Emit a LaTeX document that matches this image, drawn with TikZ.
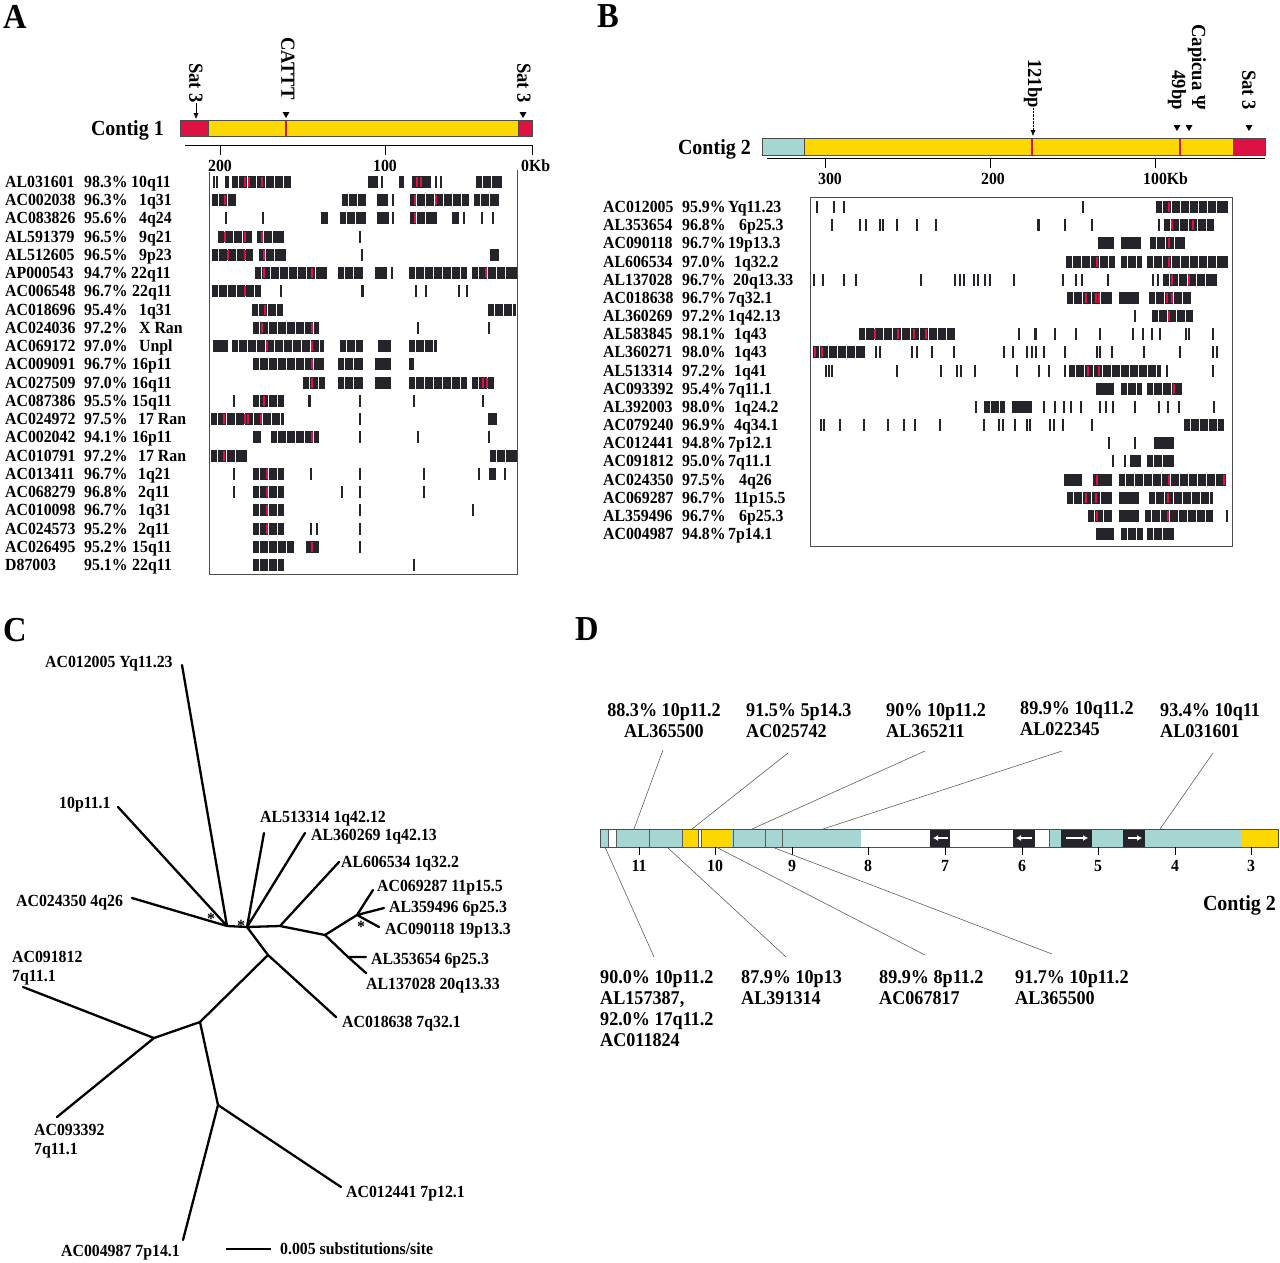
\documentclass[tikz,border=0pt]{standalone}
\usepackage{fontspec}
\setmainfont{Liberation Serif}[FakeStretch=0.93]
\usetikzlibrary{arrows.meta}

\definecolor{ctgred}{RGB}{222,18,66}
\definecolor{ctgyel}{RGB}{252,216,0}
\definecolor{ctgcyan}{RGB}{166,214,210}
\definecolor{hitblk}{RGB}{36,36,42}

\newcommand\downtri[2]{\fill (#1-3.5,#2-6) -- (#1+3.5,#2-6) -- (#1,#2) -- cycle;}

\begin{document}
\begin{tikzpicture}[x=1pt,y=-1pt,>={Latex[length=6pt,width=5pt]},
  lbl/.style={font=\fontsize{17}{19}\selectfont\bfseries,inner sep=0pt,anchor=base west},
  panel/.style={font=\fontsize{35}{37}\selectfont\bfseries,inner sep=0pt,anchor=base west},
  ctg/.style={font=\fontsize{21.5}{23}\selectfont\bfseries,inner sep=0pt,anchor=base east},
  rot/.style={font=\fontsize{20}{20}\selectfont\bfseries,inner sep=0pt,rotate=-90,anchor=east},
  ticklbl/.style={font=\fontsize{17}{19}\selectfont\bfseries,inner sep=0pt,anchor=base},
  dlbl/.style={font=\fontsize{19.5}{21}\selectfont\bfseries,inner sep=0pt,anchor=north west,align=left},
  br/.style={line width=2.3pt,line cap=round},
  lead/.style={gray!75!black,line width=0.6pt},
  warr/.style={white,line width=1.8pt,-{Latex[length=5pt,width=6pt]}},
  frame/.style={gray!60!black,line width=0.7pt}]
\useasboundingbox (0,0) rectangle (1280,1263);

% ---------- A ----------
\node[panel] (pA) at (3,29) {A};
\node[ctg] (c1) at (164,135) {Contig 1};
\fill[ctgred] (180,120) rectangle (208,136);
\fill[ctgyel] (208,120) rectangle (518,136);
\fill[ctgred] (518,120) rectangle (532,136);
\draw[ctgred,line width=2pt] (286,120) -- (286,136);
\draw[frame] (180,120) rectangle (532,136) (208,120) -- (208,136) (518,120) -- (518,136);
\node[rot] (satA1) at (196,103) {Sat 3};
\node[rot] (cattt) at (288,100) {CATTT};
\node[rot] (satA2) at (524,103) {Sat 3};
\coordinate (satA1tip) at (196,119);
\draw[->] (satA1) -- (satA1tip);
\downtri{286}{118}
\downtri{523}{118}
\draw[line width=0.8pt] (185,145) -- (533,145);
\foreach \x/\t in {220/200,385/100} {
  \draw (\x,145) -- (\x,155);
  \node[ticklbl] (ta\t) at (\x,171) {\t};
}
\draw (532,145) -- (532,155);
\node[lbl] (ta0) at (521,171) {0Kb};
\draw[frame] (209,172) -- (209,574) -- (517,574) -- (517,170);

\foreach \i/\acc/\pct/\loc/\lx/\segs/\reds in {
 1/AL031601/98.3\%/10q11/131/{213/215,216/218,225/229,232/291,368/378,381/383,399/404,412/431,435/437,440/442,476/502}/{245,249,262,417,421},
 2/AC002038/96.3\%/1q31/139/{212/236,342/366,377/388,392/393.5,410/469,474/499}/{225,415,436},
 3/AC083826/95.6\%/4q24/139/{225/226.5,262/263.5,321/328,340/366,377/389,392/393.5,410/437,452/459,463/464.5,481/482.5,492/493.5}/{415},
 4/AL591379/96.5\%/9q21/139/{218/252,257/284,359/360.5}/{225,245,262},
 5/AL512605/96.5\%/9p23/139/{212/253,259/286,361/362.5,490/499}/{228,245,264},
 6/AP000543/94.7\%/22q11/131/{255/327,338/363,375/387,391/392.5,409/467,472/517}/{264,312,486},
 7/AC006548/96.7\%/22q11/132/{212/261,280/281.5,361/364,415/416.5,425/426.5,458/459.5,466/467.5}/{245},
 8/AC018696/95.4\%/1q31/139/{252/283,488/516}/{265},
 9/AC024036/97.2\%/X Ran/139/{253/319,417/418.5,488/489.5}/{262,312},
 10/AC069172/97.0\%/Unpl/139/{213/228,232/324,340/363,378/391,409/437}/{267,312},
 11/AC009091/96.7\%/16p11/132/{253/324,338/363,375/391,409/414}/{312},
 12/AC027509/97.0\%/16q11/132/{303/325,338/363,375/391,409/467,472/494}/{312,483,487},
 13/AC087386/95.5\%/15q11/132/{233/234.5,253/284,308/310.5,359/360.5,413/414.5,482/483.5}/{264},
 14/AC024972/97.5\%/17 Ran/138/{211/284,359/360.5,488/497}/{224,245,248,261},
 15/AC002042/94.1\%/16p11/132/{253/261,271/319,359/360.5,417/418.5,488/490}/{312},
 16/AC010791/97.2\%/17 Ran/138/{211/247,490/517}/{224},
 17/AC013411/96.7\%/1q21/138/{233/234.5,253/284,310/311.5,359/360.5,423/424.5,478/479.5,489/496,504/505.5}/{267},
 18/AC068279/96.8\%/2q11/138/{233/234.5,253/284,341/342.5,359/360.5,423/424.5}/{267},
 19/AC010098/96.7\%/1q31/138/{253/284,359/360.5,472/473.5}/{267},
 20/AC024573/95.2\%/2q11/138/{253/284,310/311.5,316/317.5,359/360.5}/{267},
 21/AC026495/95.2\%/15q11/132/{253/294,306/319,359/360.5}/{312},
 22/D87003/95.1\%/22q11/132/{253/284,413/414.5}/{0}}{
  \pgfmathsetmacro\y{182+18.24*(\i-1)}
  \node[lbl] (accA\i) at (5,\y+5.5) {\acc};
  \node[lbl] (pctA\i) at (84,\y+5.5) {\pct};
  \node[lbl] (locA\i) at (\lx,\y+5.5) {\loc};
  \foreach \xa/\xb in \segs {
    \fill[hitblk] (\xa,\y-6) rectangle (\xb,\y+6);
    \pgfmathsetmacro\w{\xb-\xa}
    \ifdim\w pt>20pt
      \pgfmathsetmacro\ga{\xa+6}\pgfmathsetmacro\gb{\xa+15}\pgfmathsetmacro\gz{\xb-4}
      \foreach \g in {\ga,\gb,...,\gz} {\draw[white,line width=0.7pt] (\g,\y-6) -- (\g,\y+6);}
    \fi
  }
  \foreach \r in \reds {\ifnum\r>0\relax \draw[ctgred,line width=1.2pt] (\r,\y-5) -- (\r,\y+5);\fi}
}

% ---------- B ----------
\node[panel] (pB) at (597,28) {B};
\node[ctg] (c2) at (751,154) {Contig 2};
\fill[ctgcyan] (762,138) rectangle (804,155);
\fill[ctgyel] (804,138) rectangle (1233,155);
\fill[ctgred] (1233,138) rectangle (1265,155);
\draw[ctgred,line width=2pt] (1032,138) -- (1032,155) (1180,138) -- (1180,155);
\draw[frame] (762,138) rectangle (1265,155) (804,138) -- (804,155);
\node[rot] (bp121) at (1033,108) {121bp};
\coordinate (bp121tip) at (1033,136);
\draw[densely dotted,->] (bp121) -- (bp121tip);
\node[rot,align=right] (capi) at (1187,110) {Capicua Ψ\\49bp};
\node[rot] (satB) at (1249,110) {Sat 3};
\downtri{1177}{131}
\downtri{1189}{131}
\downtri{1249}{131}
\draw[line width=0.8pt] (767,158) -- (1265,158);
\foreach \x/\t in {825/300,990/200,1155/100} \draw (\x,158) -- (\x,168);
\node[ticklbl] (tb300) at (830,184) {300};
\node[ticklbl] (tb200) at (993,184) {200};
\node[lbl] (tb100) at (1143,184) {100Kb};
\draw[frame] (810,197) rectangle (1232,546);

\foreach \i/\acc/\pct/\loc/\lx/\segs/\reds in {
 1/AC012005/95.9\%/Yq11.23/728/{816/817.5,833/834.5,843/844.5,1082/1083.5,1156/1228}/{1169},
 2/AL353654/96.8\%/6p25.3/739/{831/832.5,859/860.5,865/866.5,879/880.5,882/883.5,896/897.5,916/917.5,935/936.5,1037/1040,1064/1065.5,1091/1092.5,1158/1159.5,1164/1214}/{1172,1193},
 3/AC090118/96.7\%/19p13.3/728/{1098/1114,1121/1141,1150/1185}/{1169},
 4/AL606534/97.0\%/1q32.2/734/{1066/1115,1121/1142,1147/1228}/{1097,1169},
 5/AL137028/96.7\%/20q13.33/733/{813/814.5,822/823.5,843/844.5,855/856.5,920/921.5,954/955.5,959/960.5,963/964.5,973/974.5,977/978.5,984/985.5,989/990.5,1013/1014.5,1062/1063.5,1075/1076.5,1081/1082.5,1107/1108.5,1152/1153.5,1157/1158.5,1163/1217}/{1172,1189},
 6/AC018638/96.7\%/7q32.1/728/{1067/1112,1119/1139,1149/1191}/{1086,1096,1099,1167,1172},
 7/AL360269/97.2\%/1q42.13/728/{1134/1135.5,1152/1193}/{1169},
 8/AL583845/98.1\%/1q43/734/{859/955,1018/1019.5,1034/1037,1054/1055.5,1075/1076.5,1099/1100.5,1132/1133.5,1142/1143.5,1151/1152.5,1159/1160.5,1185/1186.5,1188/1189.5,1212/1213.5}/{875,898,914,926},
 9/AL360271/98.0\%/1q43/734/{813/865,875/876.5,879/880.5,911/912.5,916/917.5,931/932.5,953/954.5,1003/1004.5,1012/1013.5,1026/1027.5,1031/1032.5,1035/1036.5,1043/1044.5,1064/1065.5,1096/1097.5,1099/1100.5,1111/1112.5,1143/1144.5,1179/1180.5,1212/1213.5,1216/1217.5}/{815,822},
 10/AL513314/97.2\%/1q41/734/{825/826.5,828/829.5,831/832.5,896/897.5,940/941.5,956/957.5,960/961.5,974/975.5,1016/1017.5,1038/1039.5,1048/1049.5,1064/1065.5,1069/1161,1166/1167.5,1212/1213.5}/{1088,1099},
 11/AC093392/95.4\%/7q11.1/728/{1096/1114,1121/1142,1147/1182}/{1174},
 12/AL392003/98.0\%/1q24.2/734/{975/976.5,984/1005,1012/1032,1043/1044.5,1054/1055.5,1063/1064.5,1070/1071.5,1080/1081.5,1099/1100.5,1105/1106.5,1112/1113.5,1134/1135.5,1158/1159.5,1167/1168.5,1178/1179.5,1213/1214.5}/{0},
 13/AC079240/96.9\%/4q34.1/734/{820/821.5,823/824.5,839/840.5,863/864.5,887/889,903/904.5,914/915.5,939/941,983/984.5,998/999.5,1002/1003.5,1014/1015.5,1026/1027.5,1029/1030.5,1049/1050.5,1053/1054.5,1062/1063.5,1091/1092.5,1184/1224}/{0},
 14/AC012441/94.8\%/7p12.1/728/{1108/1109.5,1134/1135.5,1154/1174}/{0},
 15/AC091812/95.0\%/7q11.1/728/{1112/1113.5,1124/1125.5,1130/1141,1147/1174}/{0},
 16/AC024350/97.5\%/4q26/739/{1064/1082,1093/1112,1119/1226}/{1097,1169,1224},
 17/AC069287/96.7\%/11p15.5/734/{1067/1112,1119/1139,1149/1213}/{1086,1096,1168},
 18/AL359496/96.7\%/6p25.3/739/{1088/1112,1119/1139,1145/1213,1226/1227.5}/{1097,1168},
 19/AC004987/94.8\%/7p14.1/728/{1096/1114,1121/1143,1147/1174}/{0}}{
  \pgfmathsetmacro\y{207+18.17*(\i-1)}
  \node[lbl] (accB\i) at (603,\y+5.5) {\acc};
  \node[lbl] (pctB\i) at (682,\y+5.5) {\pct};
  \node[lbl] (locB\i) at (\lx,\y+5.5) {\loc};
  \foreach \xa/\xb in \segs {
    \fill[hitblk] (\xa,\y-6) rectangle (\xb,\y+6);
    \pgfmathsetmacro\w{\xb-\xa}
    \ifdim\w pt>20pt
      \pgfmathsetmacro\ga{\xa+6}\pgfmathsetmacro\gb{\xa+15}\pgfmathsetmacro\gz{\xb-4}
      \foreach \g in {\ga,\gb,...,\gz} {\draw[white,line width=0.7pt] (\g,\y-6) -- (\g,\y+6);}
    \fi
  }
  \foreach \r in \reds {\ifnum\r>0\relax \draw[ctgred,line width=1.2pt] (\r,\y-5) -- (\r,\y+5);\fi}
}

% ---------- C ----------
\node[panel] (pC) at (3,641) {C};
\coordinate (n1) at (227,926);
\coordinate (n2) at (247,927);
\coordinate (n3) at (280,926);
\coordinate (n4) at (325,935);
\coordinate (n5) at (268,955);
\coordinate (n6) at (357,915);
\coordinate (n7) at (348,957);
\coordinate (n8) at (200,1022);
\coordinate (n9) at (154,1038);
\coordinate (n10) at (218,1105);
\coordinate (lYq) at (182,665);
\coordinate (l10p) at (118,807);
\coordinate (l4q26) at (132,898);
\coordinate (l513) at (264,833);
\coordinate (l269) at (305,833);
\coordinate (l534) at (339,862);
\coordinate (l287) at (373,890);
\coordinate (l496) at (384,908);
\coordinate (l118) at (379,927);
\coordinate (l654) at (366,957);
\coordinate (l028) at (366,973);
\coordinate (l638) at (336,1017);
\coordinate (l812) at (23,987);
\coordinate (l392) at (57,1117);
\coordinate (l441) at (341,1187);
\coordinate (l987) at (183,1240);
\draw[br] (lYq) -- (n1) (l10p) -- (n1) (l4q26) -- (n1)
  (n1) -- (n2) -- (n3) -- (n4) -- (n6)
  (l513) -- (n2) (l269) -- (n2) (l534) -- (n3)
  (n6) -- (l287) (n6) -- (l496) (n6) -- (l118)
  (n4) -- (n7) -- (l028) (n7) -- (l654)
  (n2) -- (n5) -- (l638) (n5) -- (n8) -- (n9) -- (l812) (n9) -- (l392)
  (n8) -- (n10) -- (l441) (n10) -- (l987);
\node[lbl] (tYq) at (45,667) {AC012005 Yq11.23};
\node[lbl] (t10p) at (59,808) {10p11.1};
\node[lbl] (t4q26) at (16,906) {AC024350 4q26};
\node[lbl] (t513) at (260,822) {AL513314 1q42.12};
\node[lbl] (t269) at (311,840) {AL360269 1q42.13};
\node[lbl] (t534) at (341,867) {AL606534 1q32.2};
\node[lbl] (t287) at (377,891) {AC069287 11p15.5};
\node[lbl] (t496) at (389,912) {AL359496 6p25.3};
\node[lbl] (t118) at (385,934) {AC090118 19p13.3};
\node[lbl] (t654) at (371,964) {AL353654 6p25.3};
\node[lbl] (t028) at (366,989) {AL137028 20q13.33};
\node[lbl] (t638) at (342,1027) {AC018638 7q32.1};
\node[lbl,anchor=north west,align=left] (t812) at (12,951) {AC091812\\7q11.1};
\node[lbl,anchor=north west,align=left] (t392) at (34,1124) {AC093392\\7q11.1};
\node[lbl] (t441) at (346,1197) {AC012441 7p12.1};
\node[lbl] (t987) at (61,1256) {AC004987 7p14.1};
\node[font=\fontsize{17}{17}\selectfont\bfseries,inner sep=0pt] (ast1) at (211,919) {*};
\node[font=\fontsize{17}{17}\selectfont\bfseries,inner sep=0pt] (ast2) at (241,926) {*};
\node[font=\fontsize{17}{17}\selectfont\bfseries,inner sep=0pt] (ast3) at (361,927) {*};
\coordinate (sb1) at (226,1249);
\coordinate (sb2) at (271,1249);
\draw[line width=2pt] (sb1) -- (sb2);
\node[lbl] (sbl) at (280,1254) {0.005 substitutions/site};

% ---------- D ----------
\node[panel] (pD) at (575,640) {D};
\foreach \xa/\xb/\c in {600/608/ctgcyan,608/616/white,616/682/ctgcyan,682/732/ctgyel,698/701/white,
  732/861/ctgcyan,861/930/white,930/950/hitblk,950/1013/white,1013/1035/hitblk,1035/1049/white,
  1049/1061/ctgcyan,1061/1092/hitblk,1092/1123/ctgcyan,1123/1145/hitblk,1145/1242/ctgcyan,1242/1278/ctgyel}
  \fill[\c] (\xa,829) rectangle (\xb,847);
\foreach \x in {608,616,649,682,698,701,733,765,782,1049}
  \draw[gray!70!black,line width=0.7pt] (\x,829) -- (\x,847);
\draw[frame] (600,829) rectangle (1278,847);
\draw[warr] (948,838) -- (933,838);
\draw[warr] (1032,838) -- (1016,838);
\draw[warr] (1066,838) -- (1088,838);
\draw[warr] (1128,838) -- (1142,838);
\foreach \x/\t in {639/11,715/10,792/9,868/8,945/7,1022/6,1098/5,1175/4,1251/3} {
  \draw (\x,847) -- (\x,855);
  \node[ticklbl] (td\t) at (\x,871) {\t};
}
\node[ctg] (c2d) at (1276,910) {Contig 2};

\node[dlbl,anchor=north,align=center] (dt1) at (664,703) {88.3\% 10p11.2\\AL365500};
\node[dlbl] (dt2) at (746,703) {91.5\% 5p14.3\\AC025742};
\node[dlbl] (dt3) at (886,703) {90\% 10p11.2\\AL365211};
\node[dlbl] (dt4) at (1020,701) {89.9\% 10q11.2\\AL022345};
\node[dlbl] (dt5) at (1160,703) {93.4\% 10q11\\AL031601};
\node[dlbl] (db1) at (600,970) {90.0\% 10p11.2\\AL157387,\\92.0\% 17q11.2\\AC011824};
\node[dlbl] (db2) at (741,970) {87.9\% 10p13\\AL391314};
\node[dlbl] (db3) at (879,970) {89.9\% 8p11.2\\AC067817};
\node[dlbl] (db4) at (1015,970) {91.7\% 10p11.2\\AL365500};

\foreach \i/\ux/\uy/\vx in {1/663/750/634,2/788/753/692,3/925/751/752,4/1062/751/823,5/1213/753/1160} {
  \coordinate (up\i) at (\ux,\uy);
  \coordinate (ub\i) at (\vx,829);
  \draw[lead] (up\i) -- (ub\i);
}
\foreach \i/\vx/\lx/\ly in {1/605/654/957,2/667/786/957,3/716/925/955,4/772/1052/954} {
  \coordinate (dn\i) at (\vx,847);
  \coordinate (dl\i) at (\lx,\ly);
  \draw[lead] (dn\i) -- (dl\i);
}
\end{tikzpicture}
\end{document}
